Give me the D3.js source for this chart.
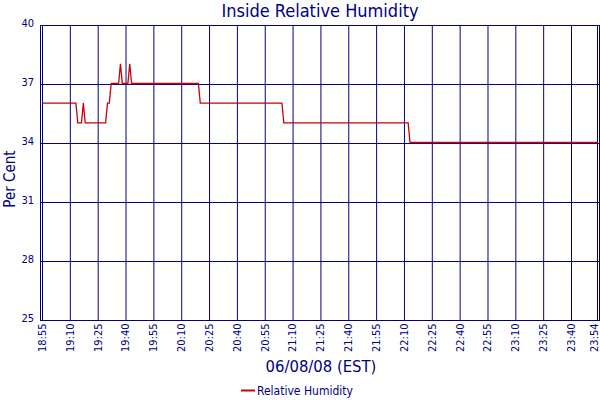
<!DOCTYPE html>
<html>
<head>
<meta charset="utf-8">
<script src="https://cdn.jsdelivr.net/npm/d3@7"></script>
<style>
  html, body { margin: 0; padding: 0; background: #fff; }
  svg { display: block; }
  text { font-family: "DejaVu Sans Condensed", "DejaVu Sans", sans-serif; font-stretch: condensed; fill: #000080; }
</style>
</head>
<body>
<div id="chart"></div>
<script>
// ---- data ----
const title = "Inside Relative Humidity";
const xTitle = "06/08/08 (EST)";
const yTitle = "Per Cent";
const seriesName = "Relative Humidity";
const startTime = "18:55";
const endTime = "23:54";
// breakpoints of the humidity trace (time, % value)
const times  = ["18:55","19:13","19:14","19:16","19:17","19:18","19:29","19:30","19:31","19:32",
                "19:36","19:37","19:38","19:41","19:42","19:43","20:19","20:20","21:04","21:05",
                "22:12","22:13","23:54"];
const values = [36,36,35,35,36,35,35,36,36,37,
                37,38,37,37,38,37,37,36,36,35,
                35,34,34];
const xTickLabels = ["18:55","19:10","19:25","19:40","19:55","20:10","20:25","20:40","20:55","21:10",
                     "21:25","21:40","21:55","22:10","22:25","22:40","22:55","23:10","23:25","23:40","23:54"];
const yTicks = [25, 28, 31, 34, 37, 40];
const yDomain = [25, 40];

// ---- layout ----
const W = 600, H = 400;
const navy = "#000080", red = "#cc0000";
const parse = s => { const [h, m] = s.split(":").map(Number); return new Date(2008, 5, 8, h, m); };

const x = d3.scaleTime().domain([parse(startTime), parse(endTime)]).range([42.5, 597.5]);
const y = d3.scaleLinear().domain(yDomain).range([320.5, 25.5]);

const svg = d3.select("#chart").append("svg").attr("width", W).attr("height", H);

// frame
svg.append("rect").attr("x", 40.5).attr("y", 25.5).attr("width", 559).attr("height", 295)
  .attr("fill", "none").attr("stroke", navy).attr("stroke-width", 1).attr("shape-rendering", "crispEdges");

// vertical grid + x tick labels via axis
const xTickDates = xTickLabels.map(parse);
const xAxis = d3.axisBottom(x).tickValues(xTickDates).tickFormat(d3.timeFormat("%H:%M")).tickSize(0).tickPadding(0);
const gx = svg.append("g").attr("transform", "translate(0,320.5)").call(xAxis);
gx.select(".domain").remove();
const nX = xTickDates.length;
gx.selectAll("text")
  .attr("transform", "rotate(-90)")
  .attr("text-anchor", "end")
  .attr("x", -3).attr("y", (d, i) => i === nX - 1 ? -4 : -1).attr("dy", "0.35em")
  .style("font-size", "11px");

svg.append("g").selectAll("line").data(xTickDates).join("line")
  .attr("x1", d => x(d)).attr("x2", d => x(d)).attr("y1", 25.5).attr("y2", 320.5)
  .attr("stroke", navy).attr("stroke-width", 1);

// horizontal grid + y tick labels
const yAxis = d3.axisLeft(y).tickValues(yTicks).tickFormat(d3.format("d")).tickSize(0).tickPadding(0);
const gy = svg.append("g").attr("transform", "translate(34,0)").call(yAxis);
gy.select(".domain").remove();
gy.selectAll("text").style("font-size", "11px").attr("dy", "0.1em");

svg.append("g").selectAll("line").data(yTicks.filter(v => v > yDomain[0] && v < yDomain[1])).join("line")
  .attr("x1", 40.5).attr("x2", 599.5).attr("y1", d => y(d)).attr("y2", d => y(d))
  .attr("stroke", navy).attr("stroke-width", 1).attr("shape-rendering", "crispEdges");

// data line
const pts = times.map((t, i) => ({ t: parse(t), v: values[i] }));
const line = d3.line().x(d => x(d.t)).y(d => y(d.v) - 1);
svg.append("path").datum(pts).attr("d", line)
  .attr("fill", "none").attr("stroke", red).attr("stroke-width", 1.3);

// titles
svg.append("text").attr("x", 320).attr("y", 17).attr("text-anchor", "middle")
  .style("font-size", "18px").text(title);
svg.append("text").attr("x", 321).attr("y", 372).attr("text-anchor", "middle")
  .style("font-size", "16.5px").text(xTitle);
svg.append("text").attr("transform", "translate(15,179) rotate(-90)").attr("text-anchor", "middle")
  .style("font-size", "15px").text(yTitle);

// legend
const lg = svg.append("g");
lg.append("line").attr("x1", 241).attr("x2", 255).attr("y1", 390.5).attr("y2", 390.5)
  .attr("stroke", red).attr("stroke-width", 2);
lg.append("text").attr("x", 257).attr("y", 395).style("font-size", "12px").text(seriesName);
</script>
</body>
</html>
